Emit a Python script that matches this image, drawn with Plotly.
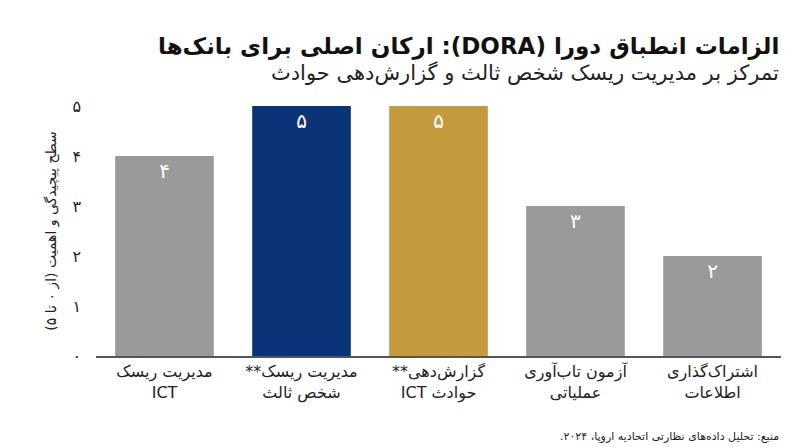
import plotly.graph_objects as go

RLE, PDF = "\u202B", "\u202C"


def rtl(s):
    return RLE + s + PDF


categories = [
    "مدیریت ریسک<br>ICT",
    "مدیریت ریسک**<br>شخص ثالث",
    "گزارش‌دهی**<br>حوادث ICT",
    "آزمون تاب‌آوری<br>عملیاتی",
    "اشتراک‌گذاری<br>اطلاعات",
]
values = [4, 5, 5, 3, 2]
value_labels = ["۴", "۵", "۵", "۳", "۲"]
colors = ["#9a9a9a", "#0b3478", "#c49a3e", "#9a9a9a", "#9a9a9a"]
y_ticks = [0, 1, 2, 3, 4, 5]
y_tick_text = ["۰", "۱", "۲", "۳", "۴", "۵"]

font = "DejaVu Sans"

fig = go.Figure(go.Bar(
    x=["<br>".join(rtl(p) for p in c.split("<br>")) for c in categories],
    y=values,
    text=value_labels,
    textposition="inside",
    insidetextanchor="end",
    textfont=dict(color="white", size=20, family=font),
    marker=dict(color=colors, line=dict(width=0)),
    width=0.72,
))

fig.update_layout(
    width=800, height=447,
    margin=dict(l=88, r=27, t=98, b=99),
    plot_bgcolor="white", paper_bgcolor="white",
    font=dict(family=font, color="#222"),
    showlegend=False,
    xaxis=dict(tickfont=dict(size=16, color="#222"), showline=True,
               linecolor="#555", linewidth=1.5, ticks=""),
    yaxis=dict(range=[0, 5], tickvals=y_ticks, ticktext=y_tick_text,
               tickfont=dict(size=16, color="#222"), showgrid=False,
               zeroline=False, ticks="", ticklabelstandoff=14,
               title=dict(text=rtl("سطح پیچیدگی و اهمیت (از ۰ تا ۵)"),
                          font=dict(size=14, color="#222"), standoff=12)),
)

fig.add_annotation(text="<b>" + rtl("الزامات انطباق دورا (DORA): ارکان اصلی برای بانک‌ها") + "</b>",
                   xref="paper", yref="paper", x=1, y=1, yshift=60,
                   xanchor="right", yanchor="middle", showarrow=False,
                   font=dict(size=23, color="#111"))
fig.add_annotation(text=rtl("تمرکز بر مدیریت ریسک شخص ثالث و گزارش‌دهی حوادث"),
                   xref="paper", yref="paper", x=1, y=1, yshift=33,
                   xanchor="right", yanchor="middle", showarrow=False,
                   font=dict(size=21, color="#222"))
fig.add_annotation(text=rtl("منبع: تحلیل داده‌های نظارتی اتحادیه اروپا، ۲۰۲۴."),
                   xref="paper", yref="paper", x=1, y=0, yshift=-80,
                   xanchor="right", yanchor="middle", showarrow=False,
                   font=dict(size=11, color="#222"))

fig.write_html("out.html")
